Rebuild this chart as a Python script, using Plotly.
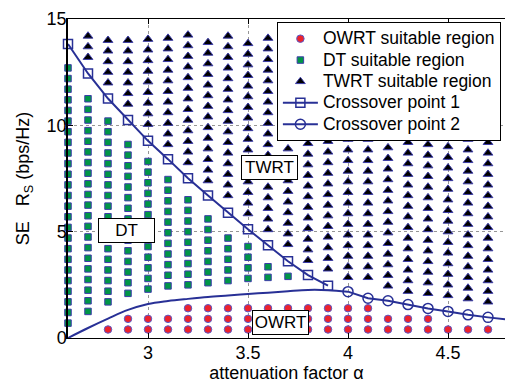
import plotly.graph_objects as go

# --- data ---
alpha = [2.6, 2.7, 2.8, 2.9, 3.0, 3.1, 3.2, 3.3, 3.4, 3.5, 3.6, 3.7,
         3.8, 3.9, 4.0, 4.1, 4.2, 4.3, 4.4, 4.5, 4.6, 4.7, 4.8]
grid_step = 0.5  # vertical spacing of the simulated rate grid

# lowest / highest rate of each class in each alpha column (None = no point)
twrt_lo = [None, 13.2, 12.0, 11.0, 10.05, 9.1, 8.25, 7.4, 6.7, 5.85, 5.1, 4.4,
           3.65, 3.25, 2.85, 2.85, 2.45, 2.2, 2.1, 2.0, 1.85, 1.7, 1.6]
twrt_hi = [None, 14.2, 14.0, 14.0, 14.05, 14.1, 14.25, 13.9, 14.2, 13.85, 14.1, 14.4,
           14.15, 14.25, 13.85, 13.85, 13.95, 14.2, 14.1, 14.0, 13.85, 14.2, 14.1]
dt_lo = [0.7, 1.25, 1.7, 2.1, 2.3, 2.45, 2.5, 2.6, 2.7, 2.8, 2.85, 2.9,
         None, None, None, None, None, None, None, None, None, None, None]
dt_hi = [12.7, 11.25, 10.2, 9.1, 8.3, 7.45, 6.5, 5.6, 4.7, 4.3, 3.35, 2.9,
         None, None, None, None, None, None, None, None, None, None, None]
owrt_lo = [None, None, 0.4, 0.4, 0.4, 0.4, 0.4, 0.4, 0.4, 0.4, 0.4, 0.4,
           0.4, 0.4, 0.4, 0.4, 0.4, 0.4, 0.4, 0.4, 0.4, 0.4, 0.4]
owrt_hi = [None, None, 0.4, 0.9, 0.9, 0.9, 1.4, 1.4, 1.4, 1.4, 1.4, 1.4,
           1.4, 1.4, 1.4, 1.4, 0.9, 0.9, 0.9, 0.4, 0.4, 0.4, 0.4]

cross1_alpha = [2.6, 2.7, 2.8, 2.9, 3.0, 3.1, 3.2, 3.3, 3.4, 3.5, 3.6, 3.7, 3.8, 3.9]
cross1_rate = [13.82, 12.44, 11.26, 10.25, 9.27, 8.41, 7.51, 6.70, 5.89, 5.11, 4.36, 3.61, 2.96, 2.46]

curve_alpha = [2.6, 2.7, 2.8, 2.9, 3.0, 3.1, 3.2, 3.3, 3.4, 3.5, 3.6, 3.7, 3.8, 3.9, 4.0]
curve_rate = [0.0, 0.47, 0.91, 1.32, 1.6, 1.74, 1.84, 1.93, 2.0, 2.07, 2.13, 2.2, 2.26, 2.25, 2.18]

cross2_alpha = [4.0, 4.1, 4.2, 4.3, 4.4, 4.5, 4.6, 4.7, 4.8]
cross2_rate = [2.18, 1.87, 1.75, 1.57, 1.39, 1.25, 1.09, 0.97, 0.86]

xticks = [3, 3.5, 4, 4.5]
xtick_text = ["3", "3.5", "4", "4.5"]
yticks = [0, 5, 10, 15]
ytick_text = ["0", "5", "10", "15"]


def expand(lo, hi):
    xs, ys = [], []
    for a, l, h in zip(alpha, lo, hi):
        if l is None:
            continue
        n = int(round((h - l) / grid_step)) + 1
        for k in range(n):
            xs.append(a)
            ys.append(round(l + k * grid_step, 3))
    return xs, ys


def legend_name(s):
    return '<span style="font-size:17.5px">' + s + '</span>'


NAVY = "rgb(40,48,150)"
FONT = "'Liberation Sans', Helvetica, Arial, sans-serif"

fig = go.Figure()

ox, oy = expand(owrt_lo, owrt_hi)
fig.add_trace(go.Scatter(x=ox, y=oy, mode="markers", name=legend_name("OWRT suitable region"),
                         cliponaxis=False,
                         marker=dict(symbol="circle", size=7.5, color="rgb(235,35,45)",
                                     line=dict(color="rgb(90,90,200)", width=1))))
dx, dy = expand(dt_lo, dt_hi)
fig.add_trace(go.Scatter(x=dx, y=dy, mode="markers", name=legend_name("DT suitable region"),
                         cliponaxis=False,
                         marker=dict(symbol="square", size=6.5, color="rgb(0,150,70)",
                                     line=dict(color="rgb(60,60,170)", width=1))))
tx, ty = expand(twrt_lo, twrt_hi)
fig.add_trace(go.Scatter(x=tx, y=ty, mode="markers", name=legend_name("TWRT suitable region"),
                         cliponaxis=False,
                         marker=dict(symbol="triangle-up", size=8.5, color="black",
                                     line=dict(color="rgb(60,60,170)", width=1))))
fig.add_trace(go.Scatter(x=cross1_alpha, y=cross1_rate, mode="lines+markers",
                         name=legend_name("Crossover point 1"), cliponaxis=False,
                         line=dict(color=NAVY, width=2),
                         marker=dict(symbol="square-open", size=9,
                                     line=dict(color=NAVY, width=1.5), color=NAVY)))
fig.add_trace(go.Scatter(x=curve_alpha, y=curve_rate, mode="lines", showlegend=False,
                         line=dict(color=NAVY, width=2, shape="spline")))
fig.add_trace(go.Scatter(x=cross2_alpha, y=cross2_rate, mode="lines+markers",
                         name=legend_name("Crossover point 2"), cliponaxis=False,
                         line=dict(color=NAVY, width=2),
                         marker=dict(symbol="circle-open", size=10,
                                     line=dict(color=NAVY, width=1.5), color=NAVY)))

for txt, ax, ay in [("TWRT", 3.605, 8.0), ("DT", 2.89, 5.07), ("OWRT", 3.66, 0.74)]:
    fig.add_annotation(x=ax, y=ay, xref="x", yref="y", text=txt, showarrow=False,
                       font=dict(family=FONT, size=17, color="black"),
                       bgcolor="white", bordercolor="black", borderwidth=1,
                       borderpad=0, width=55, height=23)

fig.update_layout(
    width=505, height=383,
    margin=dict(l=68, r=0, t=19, b=43),
    paper_bgcolor="white", plot_bgcolor="white",
    font=dict(family=FONT, size=18, color="black"),
    showlegend=True,
    legend=dict(x=0.478, y=0.9907, xanchor="left", yanchor="top",
                bgcolor="white", bordercolor="black", borderwidth=1,
                font=dict(family=FONT, size=14.15, color="black"),
                tracegroupgap=0, itemwidth=35),
)
fig.update_xaxes(range=[2.6, 4.785], tickvals=xticks, ticktext=xtick_text,
                 ticks="inside", ticklen=5, tickcolor="black",
                 ticklabelstandoff=-2,
                 showline=True, linecolor="black", linewidth=1, mirror="ticks",
                 showgrid=True, gridcolor="rgb(150,150,150)", griddash="dot", gridwidth=1,
                 zeroline=False,
                 title=dict(text="attenuation factor α", font=dict(size=18), standoff=8))
fig.update_yaxes(range=[0, 15], tickvals=yticks, ticktext=ytick_text,
                 ticks="inside", ticklen=5, tickcolor="black",
                 ticklabelstandoff=-4,
                 showline=True, linecolor="black", linewidth=1.5, mirror=False,
                 showgrid=True, gridcolor="rgb(150,150,150)", griddash="dot", gridwidth=1,
                 zeroline=False,
                 title=dict(text="SE &nbsp;&nbsp;R<sub>S</sub> (bps/Hz)", font=dict(size=18), standoff=12))

fig.write_html("out.html", config={"displayModeBar": False},
               post_script="document.body.style.margin='0px';")
